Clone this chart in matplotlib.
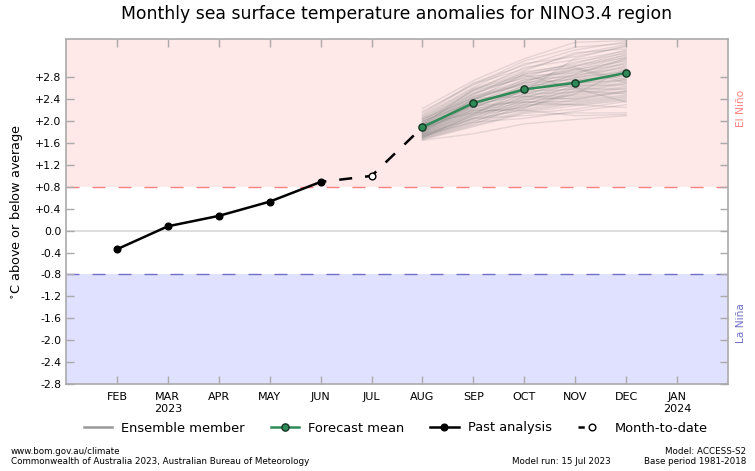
import matplotlib
matplotlib.use('Agg')
import matplotlib.pyplot as plt
from matplotlib.lines import Line2D

months = ['FEB', 'MAR\n2023', 'APR', 'MAY', 'JUN', 'JUL', 'AUG', 'SEP', 'OCT', 'NOV', 'DEC', 'JAN\n2024']
y_ticks = [-2.8, -2.4, -2.0, -1.6, -1.2, -0.8, -0.4, 0.0, 0.4, 0.8, 1.2, 1.6, 2.0, 2.4, 2.8]
y_labels = ['-2.8', '-2.4', '-2.0', '-1.6', '-1.2', '-0.8', '-0.4', '0.0',
            '+0.4', '+0.8', '+1.2', '+1.6', '+2.0', '+2.4', '+2.8']

past_x = [0, 1, 2, 3, 4]
past_values = [-0.34, 0.08, 0.27, 0.53, 0.89]
mtd_x = [4, 5, 6]
mtd_values = [0.89, 1.00, 1.89]
forecast_x = [6, 7, 8, 9, 10]
forecast_values = [1.89, 2.33, 2.58, 2.70, 2.88]

# AUG SEP OCT NOV DEC
ensemble = [
    [2.23, 2.74, 3.14, 3.44, 3.47], [2.15, 2.70, 3.02, 3.30, 3.45], [2.12, 2.68, 2.95, 3.22, 3.40],
    [2.10, 2.62, 3.05, 3.18, 3.36], [2.08, 2.60, 2.92, 3.25, 3.32], [2.06, 2.58, 2.88, 3.05, 3.30],
    [2.05, 2.55, 2.98, 3.12, 3.28], [2.03, 2.52, 2.85, 3.00, 3.26], [2.02, 2.50, 2.80, 3.08, 3.24],
    [2.00, 2.56, 2.78, 2.95, 3.22], [1.99, 2.48, 2.90, 3.02, 3.20], [1.98, 2.46, 2.75, 2.92, 3.18],
    [1.97, 2.44, 2.72, 3.00, 3.16], [1.96, 2.50, 2.82, 2.88, 3.14], [1.95, 2.42, 2.70, 2.85, 3.12],
    [1.94, 2.40, 2.68, 2.94, 3.10], [1.93, 2.38, 2.76, 2.82, 3.08], [1.92, 2.45, 2.66, 2.80, 3.06],
    [1.91, 2.36, 2.64, 2.90, 3.04], [1.90, 2.34, 2.62, 2.78, 3.02], [1.90, 2.40, 2.70, 2.76, 3.00],
    [1.89, 2.32, 2.60, 2.84, 2.98], [1.88, 2.30, 2.58, 2.74, 2.96], [1.88, 2.36, 2.56, 2.72, 2.94],
    [1.87, 2.28, 2.65, 2.70, 2.92], [1.86, 2.27, 2.54, 2.80, 2.90], [1.85, 2.34, 2.52, 2.68, 2.88],
    [1.85, 2.25, 2.50, 2.66, 2.86], [1.84, 2.24, 2.60, 2.64, 2.84], [1.83, 2.30, 2.48, 2.75, 2.82],
    [1.83, 2.22, 2.46, 2.62, 2.80], [1.82, 2.20, 2.44, 2.60, 2.78], [1.81, 2.26, 2.55, 2.58, 2.76],
    [1.80, 2.18, 2.42, 2.70, 2.74], [1.80, 2.16, 2.40, 2.56, 2.72], [1.79, 2.22, 2.38, 2.54, 2.70],
    [1.78, 2.14, 2.50, 2.52, 2.68], [1.78, 2.12, 2.36, 2.65, 2.66], [1.77, 2.18, 2.34, 2.50, 2.64],
    [1.76, 2.10, 2.32, 2.48, 2.62], [1.75, 2.08, 2.45, 2.46, 2.60], [1.75, 2.14, 2.30, 2.60, 2.58],
    [1.74, 2.06, 2.28, 2.44, 2.56], [1.73, 2.04, 2.40, 2.42, 2.54], [1.72, 2.10, 2.26, 2.40, 2.52],
    [1.72, 2.02, 2.24, 2.55, 2.50], [1.71, 2.00, 2.22, 2.38, 2.48], [1.70, 1.98, 2.35, 2.36, 2.46],
    [1.70, 2.05, 2.20, 2.34, 2.44], [1.69, 1.96, 2.18, 2.32, 2.42], [1.68, 1.94, 2.30, 2.30, 2.40],
    [1.67, 1.92, 2.16, 2.28, 2.38], [1.66, 1.90, 2.14, 2.22, 2.36], [1.65, 1.77, 1.95, 2.03, 2.10],
    [2.18, 2.66, 3.10, 3.35, 3.42], [2.00, 2.35, 2.55, 3.15, 3.38], [1.93, 2.58, 2.84, 2.60, 2.35],
    [1.86, 2.20, 2.20, 2.10, 2.12], [1.76, 2.05, 2.10, 2.15, 2.15], [1.92, 2.28, 2.35, 2.30, 2.25],
    [2.04, 2.42, 2.45, 2.40, 2.55], [1.80, 2.32, 2.72, 2.96, 2.70], [1.70, 2.12, 2.58, 2.86, 3.15],
    [1.95, 2.15, 2.25, 2.50, 2.95], [1.84, 2.40, 2.86, 2.98, 2.75], [1.74, 1.98, 2.05, 2.18, 2.30],
]

pink = '#FEE8E8'
lilac = '#E0E0FF'
grey = '#AAAAAA'
green = '#2E8B57'

fig = plt.figure(figsize=(7.55, 4.71), dpi=100)
ax = fig.add_axes([66/755, 1-384/471, (728-66)/755, (384-39)/471])

ax.axhspan(0.8, 3.5, color=pink, lw=0, zorder=0)
ax.axhspan(-2.8, -0.8, color=lilac, lw=0, zorder=0)
ax.axhline(0.8, color='#FF8080', lw=1, dashes=(9.36, 9.36), zorder=1)
ax.axhline(-0.8, color='#7070C8', lw=1, dashes=(9.36, 9.36), zorder=1)
ax.axhline(0, color='#D8D8D8', lw=1.2, zorder=1)

for member in ensemble:
    ax.plot(forecast_x, member, color='#777777', lw=1, alpha=0.18, zorder=2)

ax.plot(mtd_x, mtd_values, color='k', lw=1.8, ls=(2.9, (5.2, 5.2)), zorder=3)
ax.plot(past_x, past_values, color='k', lw=1.8, marker='o', ms=4.8, zorder=4)
ax.plot(forecast_x, forecast_values, color=green, lw=1.8, marker='o', ms=5.2,
        mec='#153525', mew=1, zorder=5)
ax.plot(5, 1.0, marker='o', ms=4.8, mfc='w', mec='k', mew=1, zorder=5)

ax.set_xlim(-1, 12)
ax.set_ylim(-2.8, 3.5)
ax.set_xticks(range(len(months)))
ax.set_xticklabels(months, fontsize=8, linespacing=1.25)
ax.set_yticks(y_ticks)
ax.set_yticklabels(y_labels, fontsize=7.8)
ax.tick_params(axis='both', direction='in', length=6, width=1, color=grey,
               top=True, right=True, pad=3.5)
ax.tick_params(axis='x', pad=5.5)
for spine in ax.spines.values():
    spine.set_color(grey)
    spine.set_linewidth(1.2)
ax.set_ylabel(r'$^{\circ}$C above or below average', fontsize=9.3, labelpad=7)

fig.text(397/755, 1-14/471, 'Monthly sea surface temperature anomalies for NINO3.4 region',
         fontsize=12.45, ha='center', va='center')
fig.text(741/755, 1-108/471, 'El Niño', color='#FF8080', fontsize=7.7, rotation=90,
         ha='center', va='center')
fig.text(741/755, 1-323/471, 'La Niña', color='#7070C8', fontsize=7.7, rotation=90,
         ha='center', va='center')

handles = [
    Line2D([], [], color='#999999', lw=1.8),
    Line2D([], [], color=green, lw=1.8, marker='o', ms=5.2, mec='#153525'),
    Line2D([], [], color='k', lw=1.8, marker='o', ms=4.8),
    Line2D([], [], color='k', lw=1.8, marker='o', ms=4.8, mfc='w', dashes=(2.5, 100)),
]
fig.legend(handles, ['Ensemble member', 'Forecast mean', 'Past analysis', 'Month-to-date'],
           ncol=4, frameon=False, fontsize=9.4, loc='center', bbox_to_anchor=(396/755, 1-428/471),
           handlelength=2.15, columnspacing=2.0, handletextpad=0.7)

fig.text(11/755, 1-451/471, 'www.bom.gov.au/climate', fontsize=6.31, va='center')
fig.text(11/755, 1-461/471, 'Commonwealth of Australia 2023, Australian Bureau of Meteorology',
         fontsize=6.31, va='center')
fig.text(611/755, 1-461/471, 'Model run: 15 Jul 2023', fontsize=6.31, ha='right', va='center')
fig.text(746/755, 1-451/471, 'Model: ACCESS-S2', fontsize=6.31, ha='right', va='center')
fig.text(746/755, 1-461/471, 'Base period 1981-2018', fontsize=6.31, ha='right', va='center')

fig.savefig('out.png', dpi=100)
